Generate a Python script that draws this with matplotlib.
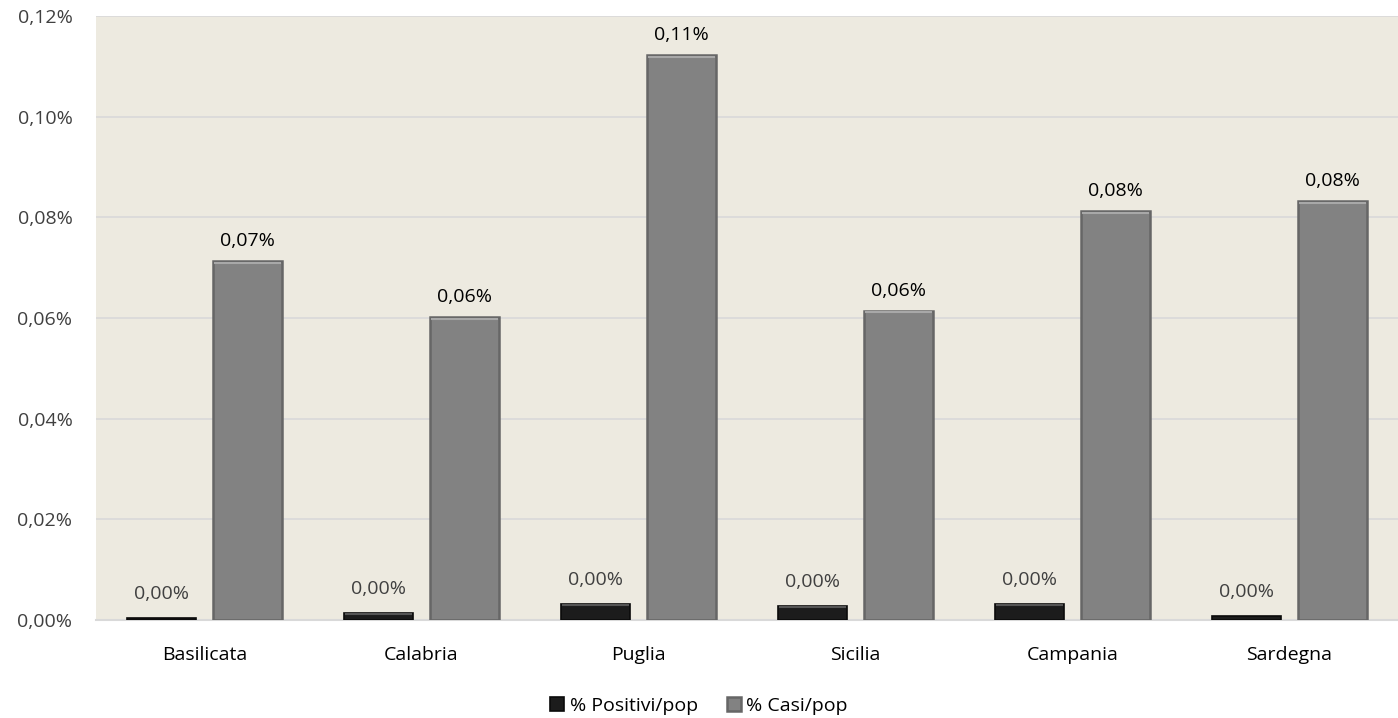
import matplotlib
matplotlib.use("Agg")
import matplotlib.pyplot as plt
import numpy as np
from matplotlib.ticker import FuncFormatter

categories = ["Basilicata", "Calabria", "Puglia", "Sicilia", "Campania", "Sardegna"]
positivi_pop = [0.0004, 0.0014, 0.0032, 0.0028, 0.0032, 0.0008]
casi_pop = [0.0713, 0.0602, 0.1122, 0.0614, 0.0812, 0.0832]
series_names = ["% Positivi/pop", "% Casi/pop"]

plt.rcParams['font.family'] = ['Open Sans', 'DejaVu Sans']

fig = plt.figure(figsize=(13.98, 7.18), dpi=100)
ax = fig.add_axes([96/1398, 98/718, 1 - 96/1398, (620-16)/718])
ax.set_facecolor('#EDEAE0')

x = np.arange(len(categories))
w = 0.32
off = 0.197

b1 = ax.bar(x - off, positivi_pop, w, color='#1C1C1C', edgecolor='#0A0A0A', linewidth=1.2,
            label=series_names[0], zorder=3)
b2 = ax.bar(x + off, casi_pop, w, color='#828282', edgecolor='#666666', linewidth=1.8,
            label=series_names[1], zorder=3)
# bevel top highlight
for bars, col in ((b1, '#555555'), (b2, '#A8A8A8')):
    for r in bars:
        h = r.get_height()
        if h > 0.001:
            ax.plot([r.get_x() + 0.01, r.get_x() + r.get_width() - 0.01], [h - 0.0003, h - 0.0003],
                    color=col, lw=1.5, zorder=4)

def fmt(v):
    return f"{v:.2f}".replace('.', ',') + "%"

FS = 14
for r, v in zip(b1, positivi_pop):
    ax.annotate(fmt(v), (r.get_x() + r.get_width()/2, v), xytext=(0, 11), textcoords='offset points',
                ha='center', va='bottom', fontsize=FS, color='#404040')
for r, v in zip(b2, casi_pop):
    ax.annotate(fmt(v), (r.get_x() + r.get_width()/2, v), xytext=(0, 8), textcoords='offset points',
                ha='center', va='bottom', fontsize=FS, color='#000000')

ax.set_ylim(0, 0.12)
ax.set_yticks(np.arange(0, 0.1201, 0.02))
ax.yaxis.set_major_formatter(FuncFormatter(lambda v, p: fmt(v)))
ax.set_xlim(-0.5, len(categories) - 0.5)
ax.set_xticks(x)
ax.set_xticklabels(categories)
ax.tick_params(axis='both', length=0, labelsize=FS, colors='#404040')
ax.tick_params(axis='x', pad=19, labelcolor='#000000')
ax.tick_params(axis='y', pad=17)
ax.grid(axis='y', color='#D9D9D9', linewidth=1.2, zorder=0)
for s in ['left', 'right', 'top']:
    ax.spines[s].set_visible(False)
ax.spines['bottom'].set_color('#D9D9D9')
ax.spines['bottom'].set_linewidth(1.5)

fig.legend(handles=[b1, b2], labels=series_names, loc='center', bbox_to_anchor=(0.5, 12/718),
           ncol=2, frameon=False, fontsize=FS, handlelength=0.7, handleheight=0.7,
           handletextpad=0.3, columnspacing=1.5)

fig.savefig("out.png", dpi=100)
